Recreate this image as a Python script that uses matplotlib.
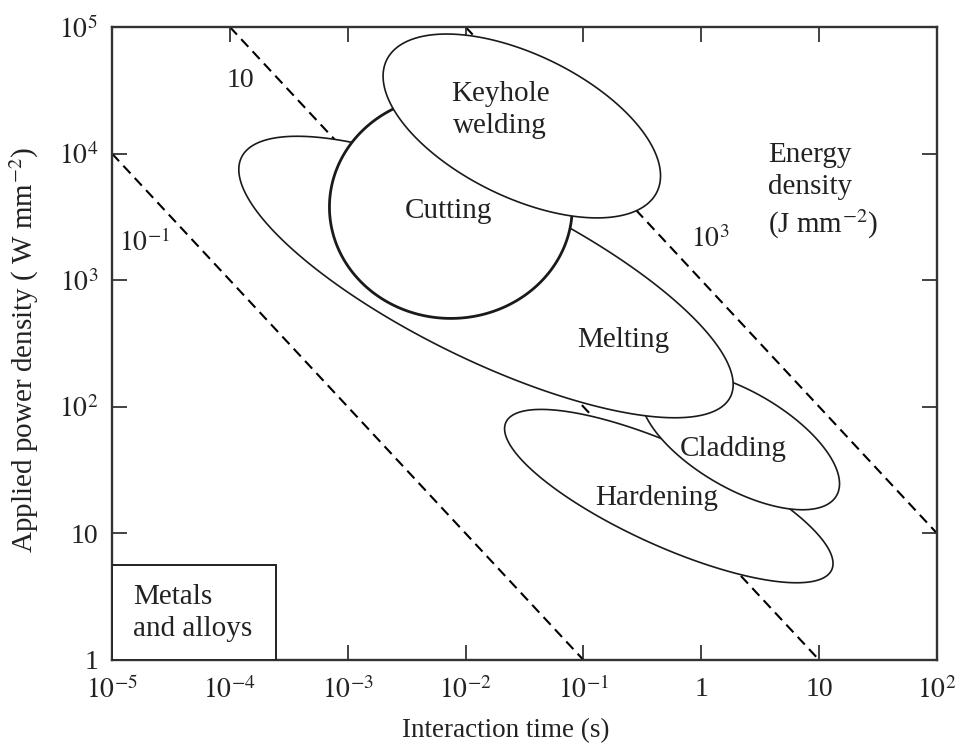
import numpy as np
import matplotlib
matplotlib.use("Agg")
import matplotlib.pyplot as plt
from matplotlib.patches import Rectangle

plt.rcParams['font.family'] = ['Liberation Serif', 'DejaVu Serif']
plt.rcParams['mathtext.fontset'] = 'stix'

# ---------------- data ----------------
# laser processing regions (ellipses in log10 space)
process_names = ['Hardening', 'Cladding', 'Melting', 'Cutting', 'Keyhole\nwelding']
centre_time = [0.53, 2.13, 0.0149, 0.0075, 0.030]          # s
centre_power = [19.7, 54.7, 1059.0, 3784.0, 16520.0]       # W mm^-2
semi_major_dec = [1.50, 0.93, 2.28, 1.03, 1.26]            # decades
semi_minor_dec = [0.40, 0.39, 0.66, 0.88, 0.57]            # decades
tilt_deg = [-22.6, -27.5, -24.2, 0.0, -23.6]

# lines of constant energy density (J mm^-2)
energy_density = [1e-1, 1e1, 1e3]
energy_labels = ['$10^{-1}$', '10', '$10^{3}$']
energy_label_time = [1.9e-5, 1.22e-4, 1.19]
energy_label_power = [1970.0, 3.8e4, 2080.0]

# region label positions
label_time = [0.42, 1.86, 0.217, 0.0071, 0.0196]
label_power = [19.0, 46.4, 337.0, 3520.0, 2.21e4]

x_ticks = [1e-5, 1e-4, 1e-3, 1e-2, 1e-1, 1, 10, 100]
x_tick_labels = ['$10^{-5}$', '$10^{-4}$', '$10^{-3}$', '$10^{-2}$', '$10^{-1}$', '1', '10', '$10^{2}$']
y_ticks = [1, 10, 100, 1e3, 1e4, 1e5]
y_tick_labels = ['1', '10', '$10^{2}$', '$10^{3}$', '$10^{4}$', '$10^{5}$']

metals_box_time = 2.47e-4
metals_box_power = 5.6

# ---------------- figure ----------------
TXT = '#222222'
fig = plt.figure(figsize=(9.58, 7.47), dpi=100)
ax = fig.add_axes([0.1169, 0.1165, 0.8612, 0.8474])
ax.set_xscale('log')
ax.set_yscale('log')
ax.set_xlim(1e-5, 1e2)
ax.set_ylim(1, 1e5)

# dashed energy-density lines
for E in energy_density:
    t = np.array([max(E / 1e5, 1e-5), min(E / 1.0, 1e2)])
    ax.plot(t, E / t, color='black', lw=1.5, ls=(0, (5, 3)), zorder=1.2)

for txt, t, p in zip(energy_labels, energy_label_time, energy_label_power):
    ax.text(t, p, txt, fontsize=20, ha='center', va='center', color=TXT)

# process regions
s = np.linspace(0, 2 * np.pi, 500)
for name, tc, pc, a, b, ang in zip(process_names, centre_time, centre_power,
                                   semi_major_dec, semi_minor_dec, tilt_deg):
    phi = np.deg2rad(ang)
    u = a * np.cos(s)
    v = b * np.sin(s)
    lt = np.log10(tc) + u * np.cos(phi) - v * np.sin(phi)
    lp = np.log10(pc) + u * np.sin(phi) + v * np.cos(phi)
    lw = 2.0 if name == 'Cutting' else 1.2
    ax.fill(10 ** lt, 10 ** lp, facecolor='white', edgecolor='#1a1a1a', lw=lw, zorder=2)

for name, t, p in zip(process_names, label_time, label_power):
    ax.text(t, p, name, fontsize=21, ha='center', va='center', color=TXT,
            linespacing=1.3, zorder=5)

ax.text(3.68, 5000, 'Energy\ndensity\n(J mm$^{-2}$)', fontsize=21, ha='left', va='center',
        linespacing=1.3, color=TXT, zorder=5)

# metals and alloys box
ax.add_patch(Rectangle((1e-5, 1), metals_box_time - 1e-5, metals_box_power - 1,
                       facecolor='white', edgecolor='#222222', lw=1.4, zorder=3))
ax.text(1.5e-5, 2.35, 'Metals\nand alloys', fontsize=21, ha='left', va='center',
        linespacing=1.3, color=TXT, zorder=4)

# axes styling
ax.set_xticks(x_ticks)
ax.set_xticklabels(x_tick_labels)
ax.set_yticks(y_ticks)
ax.set_yticklabels(y_tick_labels)
ax.minorticks_off()
ax.tick_params(direction='in', length=11, width=1.2, top=True, right=True,
               labelsize=20, colors=TXT, pad=10)
ax.tick_params(axis='x', pad=12)
for sp in ax.spines.values():
    sp.set_linewidth(1.7)
    sp.set_color('#333333')

ax.set_xlabel('Interaction time (s)', fontsize=19.5, color=TXT)
ax.set_ylabel('Applied power density ( W mm$^{-2}$)', fontsize=21, color=TXT)
ax.xaxis.set_label_coords(0.4776, -0.092)
ax.yaxis.set_label_coords(-0.086, 0.49)

fig.savefig('out.png', dpi=100)
